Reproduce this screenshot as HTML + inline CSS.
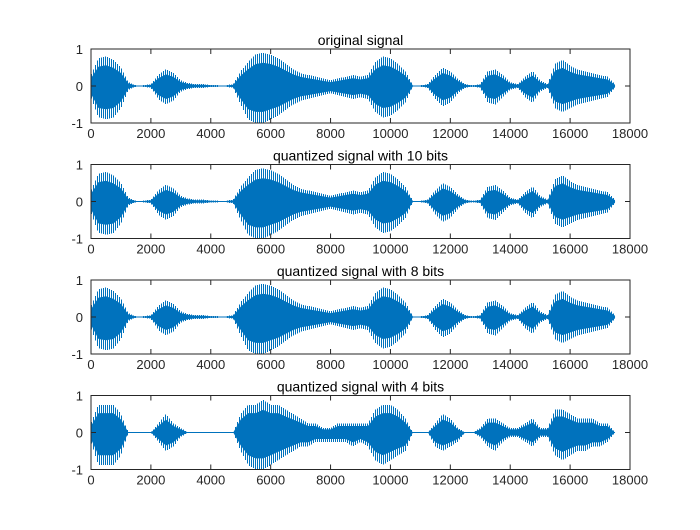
<!DOCTYPE html>
<html><head><meta charset="utf-8"><style>
body{margin:0;background:#fff;}
svg text{font-family:"Liberation Sans",Arial,sans-serif;}
</style></head><body>
<svg id="fig" width="700" height="525" xmlns="http://www.w3.org/2000/svg">
<rect width="700" height="525" fill="#fff"/>
</svg>
<script>
const xTicks=[0,2000,4000,6000,8000,10000,12000,14000,16000,18000];
const yTicks=[-1,0,1];
const titles=["original signal","quantized signal with 10 bits","quantized signal with 8 bits","quantized signal with 4 bits"];
const sampleIdx=[0,250,500,750,1000,1250,1500,1750,2000,2250,2500,2750,3000,3250,3500,3750,4000,4250,4500,4750,5000,5250,5500,5750,6000,6250,6500,6750,7000,7250,7500,7750,8000,8250,8500,8750,9000,9250,9500,9750,10000,10250,10500,10750,11000,11250,11500,11750,12000,12250,12500,12750,13000,13250,13500,13750,14000,14250,14500,14750,15000,15250,15500,15750,16000,16250,16500,16750,17000,17250,17500];
const envUpper=[0.3,0.75,0.8,0.7,0.5,0.1,0.02,0.02,0.05,0.3,0.45,0.35,0.15,0.08,0.05,0.05,0.03,0.02,0.02,0.05,0.4,0.65,0.85,0.9,0.85,0.75,0.6,0.45,0.35,0.3,0.25,0.2,0.15,0.2,0.25,0.3,0.25,0.3,0.65,0.8,0.75,0.6,0.4,0.02,0.02,0.05,0.3,0.5,0.4,0.2,0.05,0.02,0.05,0.4,0.45,0.3,0.1,0.05,0.25,0.4,0.15,0.05,0.6,0.7,0.55,0.45,0.4,0.35,0.3,0.25,0.05];
const envLower=[0.3,0.85,0.9,0.85,0.6,0.1,0.02,0.02,0.05,0.35,0.5,0.4,0.15,0.08,0.05,0.05,0.03,0.02,0.02,0.05,0.5,0.9,1.0,1.0,0.9,0.8,0.65,0.5,0.4,0.35,0.3,0.25,0.2,0.25,0.3,0.35,0.3,0.35,0.7,0.85,0.8,0.65,0.45,0.02,0.02,0.05,0.35,0.55,0.45,0.2,0.05,0.02,0.05,0.45,0.5,0.3,0.1,0.05,0.3,0.45,0.15,0.05,0.6,0.7,0.6,0.5,0.45,0.4,0.35,0.3,0.05];
const env4Upper=[0.25,0.75,0.75,0.75,0.5,0,0,0,0,0.25,0.5,0.25,0.12,0,0,0,0,0,0,0,0.5,0.75,0.75,0.88,0.75,0.75,0.62,0.5,0.38,0.25,0.25,0.12,0.12,0.25,0.25,0.25,0.25,0.25,0.62,0.75,0.75,0.62,0.38,0,0,0,0.25,0.5,0.38,0.12,0,0,0.12,0.38,0.38,0.25,0.12,0.12,0.25,0.38,0.12,0.12,0.62,0.62,0.5,0.38,0.38,0.38,0.25,0.25,0];
const env4Lower=[0.25,0.88,0.88,0.88,0.62,0,0,0,0,0.25,0.5,0.38,0.12,0,0,0,0,0,0,0,0.5,0.88,1.0,1.0,0.88,0.75,0.62,0.5,0.38,0.38,0.25,0.25,0.25,0.25,0.25,0.38,0.25,0.38,0.75,0.88,0.75,0.62,0.5,0,0,0,0.38,0.5,0.38,0.25,0,0,0.12,0.38,0.5,0.25,0.12,0.12,0.25,0.38,0.12,0.12,0.62,0.75,0.62,0.5,0.5,0.38,0.38,0.25,0];
const ups=[envUpper,envUpper,envUpper,env4Upper];
const lows=[envLower,envLower,envLower,env4Lower];
const NS='http://www.w3.org/2000/svg';
const svg=document.getElementById('fig');
const L=91,R=630,H=74,tops=[49,164.5,280,395.5];
const sx=v=>L+(v-0)/18000*(R-L);
function el(t,a,p){const e=document.createElementNS(NS,t);for(const k in a)e.setAttribute(k,a[k]);(p||svg).appendChild(e);return e;}
function envAt(arr,s){
  for(let j=0;j<sampleIdx.length-1;j++){
    if(s>=sampleIdx[j]&&s<=sampleIdx[j+1]){const f=(s-sampleIdx[j])/(sampleIdx[j+1]-sampleIdx[j]);return arr[j]+(arr[j+1]-arr[j])*f;}
  }
  return 0;
}
tops.forEach((T,i)=>{
  const sy=v=>T+(1-v)/2*H;
  const g=el('g',{});
  
  
  const t=el('text',{x:(L+R)/2,y:T-4,'text-anchor':'middle','font-size':14,fill:'#000'},g);
  t.textContent=titles[i];
  
  
  let pts=[];
  sampleIdx.forEach((s,j)=>pts.push(sx(s)+','+sy(ups[i][j]*0.7)));
  for(let j=sampleIdx.length-1;j>=0;j--)pts.push(sx(sampleIdx[j])+','+sy(-lows[i][j]*0.7));
  const p=el('polygon',{points:pts.join(' '),fill:'#0072BD'},g);
  
  
  let d='';
  for(let px=Math.round(sx(sampleIdx[0]))+0.5;px<=sx(sampleIdx[sampleIdx.length-1]);px+=2){
    const s=(px-L)/(R-L)*18000;
    const u=envAt(ups[i],s),lo=envAt(lows[i],s);
    d+='M'+px.toFixed(1)+' '+sy(u).toFixed(1)+'V'+sy(-lo).toFixed(1);
  }
  const sp=el('path',{d:d,stroke:'#0072BD','stroke-width':1,fill:'none','shape-rendering':'crispEdges'},g);
  
  
  const ln=el('line',{x1:sx(0),x2:sx(17500),y1:sy(0),y2:sy(0),stroke:'#0072BD','stroke-width':1},g);
  
  
  const box=el('rect',{x:L,y:T,width:R-L,height:H,fill:'none',stroke:'#262626','stroke-width':1},g);
  
  
  xTicks.forEach(v=>{
    el('line',{x1:sx(v),x2:sx(v),y1:T+H,y2:T+H-5,stroke:'#262626'},g);
    el('line',{x1:sx(v),x2:sx(v),y1:T,y2:T+5,stroke:'#262626'},g);
    const tx=el('text',{x:sx(v),y:T+H+15,'text-anchor':'middle','font-size':13,fill:'#262626'},g);
    tx.textContent=v;
    
    
  });
  yTicks.forEach(v=>{
    el('line',{x1:L,x2:L+5,y1:sy(v),y2:sy(v),stroke:'#262626'},g);
    el('line',{x1:R,x2:R-5,y1:sy(v),y2:sy(v),stroke:'#262626'},g);
    const ty=el('text',{x:L-8,y:sy(v)+5,'text-anchor':'end','font-size':13,fill:'#262626'},g);
    ty.textContent=v;
    
    
  });
});
</script>
</body></html>
